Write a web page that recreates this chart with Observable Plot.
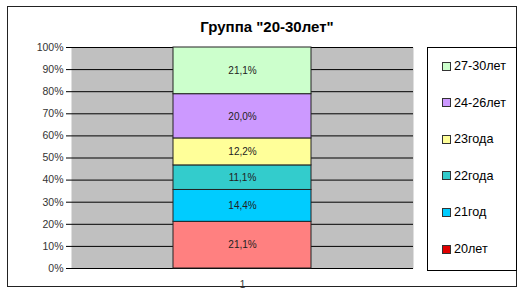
<!DOCTYPE html>
<html><head><meta charset="utf-8">
<script src="https://cdn.jsdelivr.net/npm/d3@7"></script>
<script src="https://cdn.jsdelivr.net/npm/@observablehq/plot@0.6"></script>
<style>
body{margin:0;background:#fff;font-family:Arial,"Liberation Sans",sans-serif;}
#wrap{position:relative;width:521px;height:296px;overflow:hidden;background:#fff;}
#frame{position:absolute;left:7px;top:6px;width:510px;height:281px;border:1.5px solid #222;box-sizing:border-box;}
#title{position:absolute;left:142px;width:250px;top:17px;text-align:center;font-size:15px;font-weight:bold;line-height:20px;color:#000;}
#chart{position:absolute;left:0;top:0;}
#legend{position:absolute;left:427px;top:47px;width:90px;height:224px;border:1px solid #000;box-sizing:border-box;background:#fff;}
.item{position:absolute;left:14px;height:14px;display:flex;align-items:center;font-size:12.6px;color:#000;white-space:nowrap;}
.sw{width:7px;height:7px;border:1px solid #333;margin-right:3px;}
</style></head>
<body>
<div id="wrap">
  <div id="frame"></div>
  <div id="title">Группа "20-30лет"</div>
  <div id="chart"></div>
  <div id="legend"></div>
</div>
<script>
const category = "1";
const groups = ["20лет", "21год", "22года", "23года", "24-26лет", "27-30лет"];
const values = [21.1, 14.4, 11.1, 12.2, 20.0, 21.1];
const colors = ["#FF8080", "#00CCFF", "#33CCCC", "#FFFF99", "#CC99FF", "#CCFFCC"];
const legendColors = ["#E00000", "#00CCFF", "#33CCCC", "#FFFF99", "#CC99FF", "#CCFFCC"];
const yTicks = [0, 0.1, 0.2, 0.3, 0.4, 0.5, 0.6, 0.7, 0.8, 0.9, 1];

const data = groups.map((g, i) => ({cat: category, group: g, value: values[i]}));
const fmt = v => v.toFixed(1).replace(".", ",") + "%";

const plot = Plot.plot({
  width: 420,
  height: 296,
  marginLeft: 71,
  marginRight: 7,
  marginTop: 47,
  marginBottom: 28,
  style: {fontFamily: "Arial, 'Liberation Sans', sans-serif", fontSize: "10px", background: "transparent", color: "#222"},
  x: {domain: [category], padding: 0.425, label: null},
  y: {domain: [0, 1], label: null},
  color: {domain: groups, range: colors},
  marks: [
    Plot.frame({fill: "#c0c0c0", stroke: "none"}),
    Plot.ruleY(yTicks, {stroke: "#000", strokeWidth: 1}),
    Plot.barY(data, Plot.stackY({x: "cat", y: "value", fill: "group", offset: "normalize", stroke: "#222", strokeWidth: 1})),
    Plot.text(data, Plot.stackY({x: "cat", y: "value", offset: "normalize", text: d => fmt(d.value), fill: "#222", fontSize: 10})),
    Plot.axisY({ticks: yTicks, tickFormat: d => Math.round(d * 100) + "%", tickSize: 5, tickPadding: 3, line: true, stroke: "#000", fill: "#333", fontSize: 10.5}),
    Plot.axisX({tickSize: 0, tickPadding: 12, fill: "#333", fontSize: 10})
  ]
});
document.getElementById("chart").appendChild(plot);

const legend = document.getElementById("legend");
const order = groups.map((g, i) => i).reverse();
order.forEach((i, k) => {
  const el = document.createElement("div");
  el.className = "item";
  el.style.top = (11 + k * 36.6) + "px";
  el.innerHTML = `<span class="sw" style="background:${legendColors[i]}"></span><span>${groups[i]}</span>`;
  legend.appendChild(el);
});
</script>
</body></html>
